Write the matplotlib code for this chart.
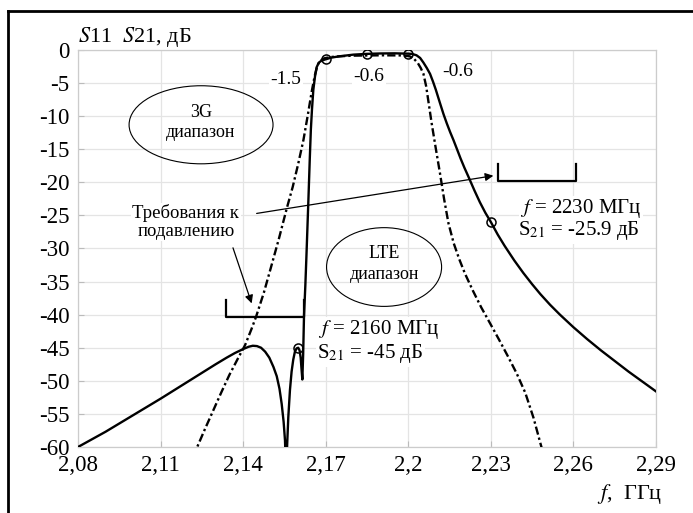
import matplotlib
matplotlib.use("Agg")
import matplotlib.pyplot as plt
from matplotlib.patches import Ellipse
from matplotlib.lines import Line2D

plt.rcParams['font.family'] = ['Liberation Serif', 'DejaVu Serif']
plt.rcParams['mathtext.fontset'] = 'stix'
plt.rcParams['axes.unicode_minus'] = False

# solid curve (measured S21)
freq_solid = [2.080, 2.085, 2.090, 2.095, 2.100, 2.105, 2.110, 2.115, 2.120, 2.125,
              2.130, 2.134, 2.137, 2.140, 2.142, 2.1435, 2.145, 2.1465, 2.148, 2.1495,
              2.151, 2.1522, 2.1532, 2.1540, 2.1547, 2.1552, 2.1556, 2.1560, 2.1564, 2.1570,
              2.1576, 2.1582, 2.1588, 2.1594, 2.1600, 2.1605, 2.1609, 2.1612, 2.1615, 2.1618,
              2.1621, 2.1626, 2.1630, 2.1637, 2.1642, 2.1646, 2.1650, 2.1655, 2.1661, 2.1667,
              2.1675, 2.1685, 2.1700, 2.1720, 2.1750, 2.1800, 2.1850, 2.1900, 2.1950, 2.2000,
              2.2015, 2.2030, 2.2043, 2.2055, 2.2067, 2.2079, 2.2090, 2.2100, 2.2115, 2.2128,
              2.2140, 2.2152, 2.2164, 2.2178, 2.2190, 2.2204, 2.2218, 2.2240, 2.2260, 2.2280,
              2.2300, 2.2325, 2.2350, 2.2385, 2.2418, 2.2450, 2.2480, 2.2515, 2.2551, 2.2600,
              2.2650, 2.2700, 2.2750, 2.2800, 2.2850, 2.2900]
s21_solid = [-60.0, -58.85, -57.7, -56.45, -55.2, -53.95, -52.7, -51.4, -50.1, -48.8,
             -47.5, -46.5, -45.8, -45.2, -44.85, -44.7, -44.75, -45.0, -45.6, -46.5,
             -47.9, -49.3, -51.2, -53.5, -56.2, -59.0, -64.0, -59.5, -55.5, -51.4,
             -48.6, -46.8, -45.6, -45.1, -45.0, -45.4, -46.5, -48.2, -49.8, -46.0,
             -40.3, -35.5, -31.0, -22.7, -16.5, -12.0, -9.0, -6.0, -4.0, -2.6,
             -1.9, -1.6, -1.4, -1.15, -0.95, -0.7, -0.58, -0.52, -0.5, -0.55,
             -0.6, -0.8, -1.2, -1.9, -2.7, -3.6, -4.8, -6.0, -8.0, -9.7,
             -11.1, -12.4, -13.6, -15.1, -16.4, -17.8, -19.1, -21.2, -23.0, -24.6,
             -26.0, -27.9, -29.6, -31.8, -33.7, -35.4, -36.9, -38.5, -40.0, -41.9,
             -43.7, -45.4, -47.0, -48.6, -50.1, -51.6]

# dash-dot curve
freq_dash = [2.1205, 2.1231, 2.1260, 2.1290, 2.1320, 2.1350, 2.1380, 2.1407, 2.1430, 2.1447,
             2.1475, 2.1500, 2.1530, 2.1558, 2.1580, 2.1600, 2.1619, 2.1635, 2.1649, 2.1660,
             2.1670, 2.1680, 2.1695, 2.1720, 2.1750, 2.1800, 2.1900, 2.1980, 2.2005, 2.2020,
             2.2035, 2.2045, 2.2055, 2.2065, 2.2075, 2.2085, 2.2100, 2.2115, 2.2130, 2.2146,
             2.2165, 2.2185, 2.2206, 2.2235, 2.2265, 2.2297, 2.2330, 2.2362, 2.2394, 2.2425,
             2.2455, 2.2485, 2.2505]
s21_dash = [-64.0, -60.2, -57.4, -54.6, -51.8, -49.1, -46.7, -44.6, -42.2, -40.3,
            -36.7, -33.0, -28.5, -24.0, -20.7, -17.2, -13.6, -9.8, -6.3, -3.9,
            -2.3, -1.6, -1.25, -1.05, -0.95, -0.85, -0.8, -0.82, -0.95, -1.3,
            -2.0, -2.7, -3.6, -5.5, -8.3, -11.1, -14.9, -18.6, -22.5, -26.2,
            -29.2, -31.6, -33.8, -36.4, -38.9, -41.3, -43.8, -46.3, -48.9, -51.8,
            -55.6, -60.2, -63.0]

# marked points
mark_f = [2.17, 2.185, 2.2, 2.16, 2.23]
mark_db = [-1.4, -0.58, -0.55, -45.0, -26.0]

xticks = [2.08, 2.11, 2.14, 2.17, 2.20, 2.23, 2.26, 2.29]
xlabels = ['2,08', '2,11', '2,14', '2,17', '2,2', '2,23', '2,26', '2,29']
yticks = list(range(-60, 1, 5))

# suppression requirement brackets: f_start, f_end, level, tick top
brackets = [(2.1338, 2.1621, -40.3, -37.8), (2.2325, 2.2609, -19.8, -17.2)]

fig = plt.figure(figsize=(6.93, 5.13), dpi=100)
ax = fig.add_axes([0.1126, 0.1287, 0.834, 0.7738])

ax.plot(freq_solid, s21_solid, color='black', lw=1.7, zorder=3)
ax.plot(freq_dash, s21_dash, color='black', lw=1.7, ls=(0, (3.5, 1.3, 1.0, 1.3)), zorder=3)
ax.plot(mark_f, mark_db, 'o', ms=6.5, mfc='none', mec='black', mew=1.1, zorder=4)

for f0, f1, lev, top in brackets:
    ax.plot([f0, f0, f1, f1], [top, lev, lev, top], color='black', lw=1.6, zorder=3)

ax.set_xlim(2.08, 2.29)
ax.set_ylim(-60, 0)
ax.set_xticks(xticks)
ax.set_xticklabels(xlabels)
ax.set_yticks(yticks)
ax.tick_params(direction='in', length=4, color='#bbbbbb', labelsize=16.5, pad=6)
ax.grid(True, color='#e4e4e4', lw=0.9)
ax.set_axisbelow(True)
for s in ax.spines.values():
    s.set_color('#cccccc')
    s.set_linewidth(0.9)

wb = dict(facecolor='white', edgecolor='none', pad=1.0)
ax.text(2.1555, -4.5, '-1.5', fontsize=14, ha='center', va='center', bbox=wb, zorder=5)
ax.text(2.1857, -4.0, '-0.6', fontsize=14, ha='center', va='center', bbox=wb, zorder=5)
ax.text(2.2179, -3.3, '-0.6', fontsize=14, ha='center', va='center', bbox=wb, zorder=5)

# band ellipses
ax.add_patch(Ellipse((2.1247, -11.3), 0.0523, 11.8, fill=False, ec='black', lw=0.8, zorder=2))
ax.text(2.1247, -9.4, '3G', fontsize=13, ha='center', va='center')
ax.text(2.1247, -12.5, 'диапазон', fontsize=13, ha='center', va='center')
ax.add_patch(Ellipse((2.1912, -32.8), 0.0418, 11.9, fill=False, ec='black', lw=0.8, zorder=2))
ax.text(2.1912, -30.7, 'LTE', fontsize=13, ha='center', va='center')
ax.text(2.1912, -34.0, 'диапазон', fontsize=13, ha='center', va='center')

ax.text(2.1192, -26.0, 'Требования к\nподавлению', fontsize=13.5, ha='center', va='center',
        linespacing=1.1, bbox=wb, zorder=5)
arr = dict(arrowstyle='-|>', color='black', lw=0.9, mutation_scale=12, shrinkA=0, shrinkB=0)
ax.annotate('', xy=(2.1431, -38.3), xytext=(2.1363, -29.9), arrowprops=arr, zorder=5)
ax.annotate('', xy=(2.2309, -19.0), xytext=(2.1449, -24.7), arrowprops=arr, zorder=5)

ax.text(2.1672, -42.3, '$f$ = 2160 МГц', fontsize=15, ha='left', va='center', bbox=wb, zorder=5)
ax.text(2.1669, -45.9, 'S$_{21}$ = -45 дБ', fontsize=15, ha='left', va='center', bbox=wb, zorder=5)
ax.text(2.2406, -24.0, '$f$ = 2230 МГц', fontsize=15, ha='left', va='center', bbox=wb, zorder=5)
ax.text(2.2399, -27.3, 'S$_{21}$ = -25.9 дБ', fontsize=15, ha='left', va='center', bbox=wb, zorder=5)

fig.text(0.1126, 0.928, r'$S$11  $S$21, дБ', fontsize=16, ha='left', va='center')
fig.text(0.955, 0.037, '$f$,  ГГц', fontsize=16, ha='right', va='center')

# outer frame
fx = 7.5 / 693
fy = 1 - 10.5 / 513
fig.add_artist(Line2D([fx, 1.0], [fy, fy], color='black', lw=2.0, transform=fig.transFigure))
fig.add_artist(Line2D([fx, fx], [0.0, fy], color='black', lw=2.0, transform=fig.transFigure))

fig.savefig('out.png', dpi=100)
